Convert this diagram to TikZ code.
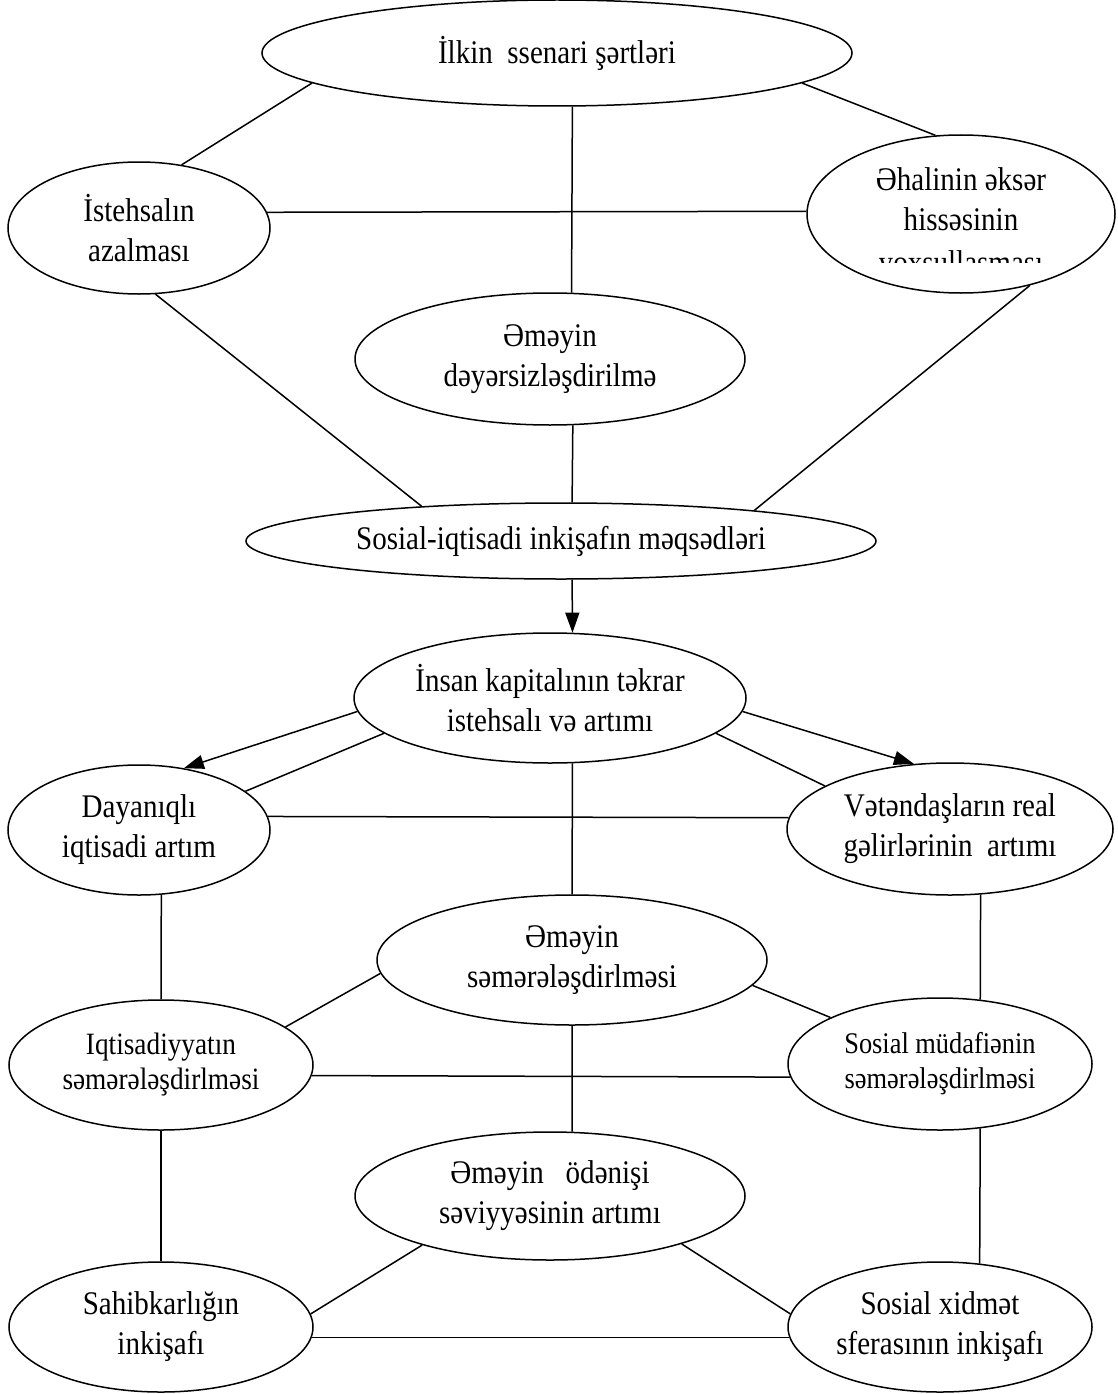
\documentclass[tikz,border=0pt]{standalone}
\usepackage{fontspec}
\setmainfont{Liberation Serif}[FakeStretch=0.88]
\usetikzlibrary{shapes.geometric,arrows.meta}
\tikzset{
  oval/.style={ellipse, draw, line width=1.5pt, inner sep=0pt, align=center,
    font=\fontsize{33}{40}\selectfont},
  ovsmall/.style={oval, font=\fontsize{31}{35}\selectfont},
  lbl/.style={inner sep=0pt, align=center, font=\fontsize{33}{40}\selectfont},
  conn/.style={line width=1.5pt},
  arr/.style={conn, -{Triangle[length=20pt,width=14pt]}}
}
\begin{document}
\begin{tikzpicture}[x=1pt,y=-1pt]
\useasboundingbox[fill=white] (0,0) rectangle (1118,1394);

% ellipses
\node[oval, minimum width=590pt, minimum height=106pt] (top) at (557,53) {İlkin\ \ ssenari şərtləri};
\node[oval, minimum width=262pt, minimum height=132pt] (ist) at (139,228) {İstehsalın\\azalması};
\node[oval, minimum width=308pt, minimum height=158pt] (eha) at (961,214) {};
\node[lbl] (ehat) at (961,199) {Əhalinin əksər\\hissəsinin};
\begin{scope}
  \clip (808,238) rectangle (1110,262);
  \node[lbl] (ehac) at (961,266) {yoxsullaşması};
\end{scope}
\node[oval, minimum width=390pt, minimum height=132pt] (dev) at (550,359) {Əməyin\\dəyərsizləşdirilmə};
\node[oval, minimum width=630pt, minimum height=76pt] (sos) at (561,541) {Sosial-iqtisadi inkişafın məqsədləri};
\node[oval, minimum width=392pt, minimum height=130pt] (ins) at (550,698) {İnsan kapitalının təkrar\\istehsalı və artımı};
\node[oval, minimum width=262pt, minimum height=130pt] (day) at (139,830) {Dayanıqlı\\iqtisadi artım};
\node[oval, minimum width=326pt, minimum height=132pt] (vet) at (950,829) {Vətəndaşların real\\gəlirlərinin\ \ artımı};
\node[oval, minimum width=390pt, minimum height=130pt] (sem) at (572,960) {Əməyin\\səmərələşdirlməsi};
\node[ovsmall, minimum width=304pt, minimum height=130pt] (iqt) at (161,1065) {Iqtisadiyyatın\\səmərələşdirlməsi};
\node[oval, font=\fontsize{30}{35}\selectfont, minimum width=304pt, minimum height=132pt] (smu) at (940,1064) {Sosial müdafiənin\\səmərələşdirlməsi};
\node[oval, minimum width=390pt, minimum height=128pt] (ode) at (550,1196) {Əməyin\ \ \ ödənişi\\səviyyəsinin artımı};
\node[oval, minimum width=304pt, minimum height=130pt] (sah) at (161,1327) {Sahibkarlığın\\inkişafı};
\node[oval, minimum width=304pt, minimum height=130pt] (sxi) at (940,1327) {Sosial xidmət\\sferasının inkişafı};

% connectors, upper block
\draw[conn] (top.187) -- (ist.56);
\draw[conn] (top.353) -- (eha.108);
\draw[conn] (top.286) -- (dev.72);
\draw[conn] (ist.7) -- (eha.179);
\draw[conn] (ist.284) -- (sos.166);
\draw[conn] (eha.314) -- (sos.9.5);
\draw[conn] (dev.289) -- (sos.74);
\draw[arr] (sos.286) -- (ins.71);

% middle block
\draw[arr] (ins.184) -- (day.54);
\draw[conn] (day.20) -- (ins.192);
\draw[arr] (ins.356) -- (vet.119);
\draw[conn] (vet.161) -- (ins.348);
\draw[conn] (ins.289) -- (sem.90);
\draw[conn] (day.6) -- (vet.176);
\draw[conn] (day.289) -- (iqt.90);
\draw[conn] (vet.295) -- (smu.58);

% lower block
\draw[conn] (sem.184) -- (iqt.17);
\draw[conn] (sem.352) -- (smu.157);
\draw[conn] (iqt.356) -- (smu.185);
\draw[conn] (sem.270) -- (ode.71);
\draw[conn] (iqt.270) -- (sah.90);
\draw[conn] (smu.302) -- (sxi.58);
\draw[conn] (ode.201) -- (sah.5);
\draw[conn] (ode.340) -- (sxi.175);
\draw[conn] (sah.356) -- (sxi.184);
\end{tikzpicture}
\end{document}
